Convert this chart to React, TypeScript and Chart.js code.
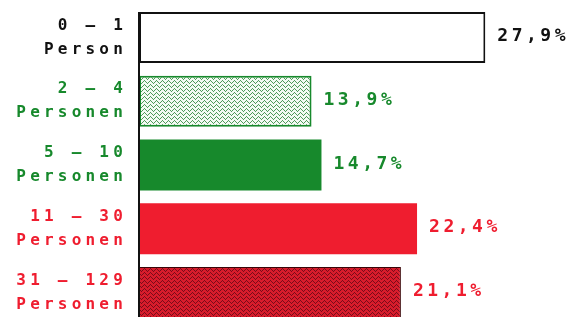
import React, { useEffect, useRef } from "react";
import { Chart, registerables } from "chart.js";

Chart.register(...registerables);

const categories: string[][] = [
  ["0 — 1", "Person"],
  ["2 — 4", "Personen"],
  ["5 — 10", "Personen"],
  ["11 — 30", "Personen"],
  ["31 — 129", "Personen"],
];
const shares: number[] = [27.9, 13.9, 14.7, 22.4, 21.1];

const GREEN = "#17892c";
const RED = "#ef1d2f";
const textColors = ["#111111", GREEN, GREEN, RED, RED];

function chevronPattern(bg: string, fg: string, thick: number): CanvasPattern | string {
  const c = document.createElement("canvas");
  c.width = 6;
  c.height = 4;
  const g = c.getContext("2d");
  if (!g) return bg;
  g.fillStyle = bg;
  g.fillRect(0, 0, 6, 4);
  g.fillStyle = fg;
  const ys = [0, 1, 2, 3, 2, 1];
  for (let x = 0; x < 6; x++) {
    for (let t = 0; t < thick; t++) g.fillRect(x, (ys[x] + t) % 4, 1, 1);
  }
  const p = g.createPattern(c, "repeat");
  return p || bg;
}

const fmt = (v: number) => v.toFixed(1).replace(".", ",") + "%";

const decorPlugin = {
  id: "decor",
  beforeDraw(chart: any) {
    chart.ctx.letterSpacing = "4.2px";
  },
  afterDatasetsDraw(chart: any) {
    const ctx = chart.ctx;
    const meta = chart.getDatasetMeta(0);
    const first: any = meta.data[0];
    const top = first.y - first.height / 2;
    ctx.save();
    ctx.strokeStyle = "#111111";
    ctx.lineWidth = 2;
    ctx.beginPath();
    ctx.moveTo(chart.chartArea.left, top);
    ctx.lineTo(chart.chartArea.left, chart.height);
    ctx.stroke();
    ctx.font = "bold 18px 'DejaVu Sans Mono'";
    ctx.letterSpacing = "3.5px";
    ctx.textAlign = "left";
    ctx.textBaseline = "middle";
    meta.data.forEach((el: any, i: number) => {
      ctx.fillStyle = textColors[i];
      ctx.fillText(fmt(shares[i]), el.x + 12, el.y - 1);
    });
    ctx.restore();
    ctx.letterSpacing = "4.2px";
  },
};

export default function App() {
  const ref = useRef<HTMLCanvasElement | null>(null);
  useEffect(() => {
    if (!ref.current) return;
    const bg = [
      "#ffffff",
      chevronPattern("#f4fbf4", "#4f9a5a", 1),
      GREEN,
      RED,
      chevronPattern("#d81c2c", "#7a0c18", 1),
    ];
    const chart = new Chart(ref.current, {
      type: "bar",
      data: {
        labels: categories,
        datasets: [
          {
            data: shares,
            backgroundColor: bg as any,
            borderColor: ["#111111", GREEN, GREEN, RED, "#3a0508"],
            borderWidth: [2, 2, 0, 0, 1],
            borderSkipped: false,
            categoryPercentage: 1,
            barPercentage: 0.8,
          },
        ],
      },
      options: {
        indexAxis: "y",
        responsive: true,
        maintainAspectRatio: false,
        animation: false,
        layout: { padding: { top: 5.6, bottom: 5.6, left: 0, right: 0 } },
        plugins: { legend: { display: false }, tooltip: { enabled: false } },
        scales: {
          x: { display: false, min: 0, max: 34.4 },
          y: {
            grid: { display: false },
            border: { display: false },
            ticks: {
              color: (c: any) => textColors[c.index],
              font: { family: "'DejaVu Sans Mono'", size: 16, weight: "bold", lineHeight: 1.5 },
              padding: 4,
            },
            afterFit: (s: any) => {
              s.width = 139;
              s.paddingTop = 0;
              s.paddingBottom = 0;
            },
          },
        },
      },
      plugins: [decorPlugin],
    });
    return () => chart.destroy();
  }, []);
  return (
    <div style={{ position: "fixed", left: 0, top: 0, width: 566, height: 317, overflow: "hidden", background: "#fff" }}>
      <div style={{ position: "relative", width: 566, height: 330 }}>
        <canvas ref={ref} />
      </div>
    </div>
  );
}
